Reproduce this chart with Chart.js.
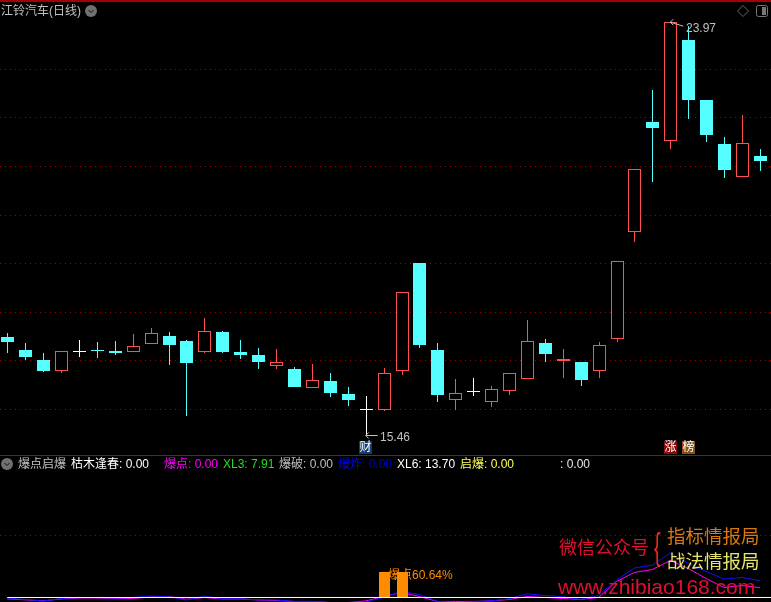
<!DOCTYPE html>
<html>
<head>
<meta charset="utf-8">
<script src="https://cdn.jsdelivr.net/npm/chart.js@4"></script>
<style>
  html, body { margin: 0; padding: 0; background: #000; overflow: hidden; }
  #wrap { position: relative; width: 771px; height: 602px; background: #000; overflow: hidden;
          font-family: "Liberation Sans", "Noto Sans CJK SC", sans-serif; font-size: 12px; }
  canvas { position: absolute; left: 0; }
  #wrap span, #wrap div.rule, #wrap svg { position: absolute; }
  #wrap span { white-space: pre; line-height: 14px; }
  .badge { width: 13px; height: 13px; line-height: 13px !important; text-align: center; color: #fff; }
  .wm { font-size: 18.5px; line-height: 20px !important; }
</style>
</head>
<body>
<div id="wrap">
  <canvas id="price" width="771" height="455" style="top:0"></canvas>
  <canvas id="indicator" width="771" height="147" style="top:455px"></canvas>

  <div class="rule" style="left:0;top:0;width:771px;height:2px;background:#a80000"></div>
  <div class="rule" style="left:0;top:455px;width:771px;height:1px;background:#c00000"></div>

  <span style="left:1px;top:4px;color:#c0c0c0">江铃汽车(日线)</span>
  <svg style="left:85px;top:5px" width="12" height="12"><circle cx="6" cy="6" r="6" fill="#707070"/><path d="M3.5 5 L6 7.5 L8.5 5" stroke="#111" fill="none"/></svg>
  <svg style="left:737px;top:5px" width="12" height="12"><path d="M6 0.5 L11.5 6 L6 11.5 L0.5 6 Z" stroke="#666" fill="none"/></svg>
  <svg style="left:756px;top:5px" width="12" height="12"><rect x="0.5" y="0.5" width="11" height="11" rx="2" stroke="#777" fill="none"/><rect x="6" y="2" width="4" height="8" fill="#777"/></svg>

  <span style="left:686px;top:21px;color:#c0c0c0">23.97</span>
  <span style="left:380px;top:430px;color:#c0c0c0">15.46</span>
  <span class="badge" style="left:359px;top:441px;background:#123e6e">财</span>
  <span class="badge" style="left:664px;top:441px;background:#8a0a0a">涨</span>
  <span class="badge" style="left:682px;top:441px;background:#8a5010">榜</span>

  <svg style="left:1px;top:458px" width="12" height="12"><circle cx="6" cy="6" r="6" fill="#707070"/><path d="M3.5 5 L6 7.5 L8.5 5" stroke="#111" fill="none"/></svg>
  <span style="left:18px;top:457px;color:#c0c0c0">爆点启爆</span>
  <span style="left:71px;top:457px;color:#fff">枯木逢春: 0.00</span>
  <span style="left:164px;top:457px;color:#ff00ff">爆点: 0.00</span>
  <span style="left:223px;top:457px;color:#22dd22">XL3: 7.91</span>
  <span style="left:279px;top:457px;color:#c0c0c0">爆破: 0.00</span>
  <span style="left:338px;top:457px;color:#0000ff">爆炸</span>
  <span style="left:362px;top:457px;color:#0000c8">: 0.00</span>
  <span style="left:397px;top:457px;color:#fff">XL6: 13.70</span>
  <span style="left:460px;top:457px;color:#ffff55">启爆: 0.00</span>
  <span style="left:560px;top:457px;color:#e8e8e8">: 0.00</span>

  <span style="left:388px;top:568px;color:#ff8c00">爆点60.64%</span>

  <span class="wm" style="left:559px;top:538px;font-size:18px;color:#e01030">微信公众号</span>
  <span style="left:654px;top:527px;font-size:36px;line-height:40px;color:#e0301f;transform:scaleX(0.55);transform-origin:left top">{</span>
  <span class="wm" style="left:667px;top:527px;color:#d8780f">指标情报局</span>
  <span class="wm" style="left:667px;top:552px;color:#e6e66a">战法情报局</span>
  <span style="left:558px;top:575px;font-size:21px;line-height:24px;color:#e01030">www.zhibiao168.com</span>
</div>

<script>
// daily candles
const opens  = [17.49,17.22,17.02,16.79,17.20,17.22,17.20,17.18,17.35,17.51,17.41,17.18,17.59,17.18,17.12,16.89,16.83,16.44,16.58,16.32,16.01,15.99,16.79,19.01,17.22,16.19,16.38,16.15,16.38,16.62,17.37,16.99,16.97,16.79,17.45,19.65,21.92,21.53,23.60,22.37,21.46,20.78,21.21];
const closes = [17.39,17.08,16.79,17.20,17.20,17.20,17.16,17.30,17.57,17.33,16.95,17.61,17.18,17.12,16.97,16.97,16.46,16.60,16.34,16.19,16.01,16.75,18.42,17.33,16.30,16.34,16.38,16.42,16.75,17.41,17.14,17.04,16.60,17.33,19.05,20.95,21.79,23.97,22.37,21.65,20.93,21.48,21.11];
const highs  = [17.57,17.37,17.16,17.20,17.43,17.39,17.41,17.55,17.67,17.59,17.43,17.88,17.61,17.43,17.26,17.24,16.87,16.93,16.75,16.46,16.28,16.85,18.42,19.01,17.37,16.62,16.64,16.48,16.75,17.84,17.45,17.24,16.97,17.39,19.05,20.95,22.58,23.97,23.89,22.37,21.61,22.06,21.36];
const lows   = [17.16,17.02,16.77,16.75,17.08,17.06,17.12,17.18,17.35,16.91,15.86,17.16,17.16,17.04,16.83,16.83,16.46,16.44,16.25,16.07,15.46,15.97,16.71,17.26,16.15,15.99,16.28,16.05,16.30,16.62,16.97,16.64,16.48,16.64,17.39,19.44,20.68,21.36,21.98,21.50,20.76,20.78,20.91];
const priceTicks = [16,17,18,19,20,21,22,23];

// lower pane
const xl6 = [-0.8,-1.5,-2.9,-0.8,0,0,-0.4,0,1.2,0.6,-2.0,1.2,-1.1,-1.1,-1.9,-2.0,-3.2,-3.2,-4.1,-4.1,-3.6,0,4.9,2.4,-3.2,-4.1,-3.6,-2.8,-1.1,3.0,1.6,0.6,-1.5,1.6,14.2,23.9,26.3,36.1,27.6,21.1,15.0,16.2,13.70];
const xl3 = [-1.1,-1.9,-2.7,-1.2,-0.4,-0.4,-0.8,-0.8,0.4,0.8,-1.4,0,-1.2,-1.2,-2.0,-2.4,-3.2,-3.2,-4.1,-4.1,-2.8,0.8,4.1,0.8,-3.2,-3.2,-3.2,-2.8,-1.6,0.8,0,-0.8,-1.6,0,13.0,20.3,22.7,30.0,23.5,15.4,8.1,9.7,7.91];
const burstDays = [21,22];
const burstBars = [20.3,20.3];
const igniteBars = [0.8,0.8];
const indicatorTicks = [50];

const RED = '#ff5050', CYAN = '#55ffff', WHITE = '#ffffff';
const GRID = { color: '#a00000', lineWidth: 1, drawTicks: false };
const BORDER = { display: false, dash: [1,4] };

// index 0 sits at 7.3px and candles are 17.92px apart
const xMin = -0.407, xMax = 42.62;

function candleColor(i) {
    if (closes[i] > opens[i]) return RED;
    if (closes[i] < opens[i]) return CYAN;
    return WHITE;
}

// keep bars on whole pixels, the original has no antialiasing
const snapBars = {
    id: 'snapBars',
    beforeDatasetsDraw(chart) {
        chart.data.datasets.forEach((ds, n) => {
            const meta = chart.getDatasetMeta(n);
            if (meta.type !== 'bar') return;
            meta.data.forEach(el => {
                el.x = Math.round(el.x) + 0.5;
                const top = Math.round(Math.min(el.y, el.base));
                const bottom = Math.max(Math.round(Math.max(el.y, el.base)), top + 1);
                el.y = top;
                el.base = bottom;
                el.height = bottom - top;
            });
        });
    }
};

// little arrows pointing at the highest and lowest price
const extremes = {
    id: 'extremes',
    afterDatasetsDraw(chart) {
        const { ctx, scales } = chart;
        const arrow = (i, price, dx, dy) => {
            const x = scales.x.getPixelForValue(i), y = scales.y.getPixelForValue(price);
            ctx.save();
            ctx.strokeStyle = '#c0c0c0';
            ctx.lineWidth = 1;
            ctx.beginPath();
            ctx.moveTo(x, y);
            ctx.lineTo(x + dx, y + dy);
            ctx.moveTo(x, y);
            ctx.lineTo(x + 3, y - 3);
            ctx.moveTo(x, y);
            ctx.lineTo(x + 3, y + 3);
            ctx.stroke();
            ctx.restore();
        };
        arrow(37, 23.97, 13, 4);
        arrow(20, 15.46, 12, 0);
    }
};

const days = opens.map((_, i) => i);

new Chart(document.getElementById('price'), {
    type: 'bar',
    data: {
        datasets: [{
            // wicks
            data: days.map(i => ({ x: i, y: [lows[i], highs[i]] })),
            barThickness: 1,
            backgroundColor: days.map(candleColor),
            borderWidth: 0,
            inflateAmount: 0,
            grouped: false,
            order: 2
        }, {
            // bodies, rising ones are hollow
            data: days.map(i => ({ x: i, y: [Math.min(opens[i], closes[i]), Math.max(opens[i], closes[i])] })),
            barThickness: 13,
            backgroundColor: days.map(i => closes[i] > opens[i] ? '#000000' : candleColor(i)),
            borderColor: days.map(candleColor),
            borderWidth: days.map(i => closes[i] > opens[i] ? 1 : 0),
            borderSkipped: false,
            inflateAmount: 0,
            grouped: false,
            order: 1
        }]
    },
    options: {
        responsive: false,
        animation: false,
        devicePixelRatio: 1,
        layout: { padding: 0 },
        plugins: { legend: { display: false }, tooltip: { enabled: false } },
        scales: {
            x: { type: 'linear', offset: false, min: xMin, max: xMax, display: false },
            y: {
                min: 15.059, max: 24.427,
                afterBuildTicks: axis => { axis.ticks = priceTicks.map(value => ({ value })); },
                ticks: { display: false },
                grid: GRID,
                border: BORDER
            }
        }
    },
    plugins: [snapBars, extremes]
});

new Chart(document.getElementById('indicator'), {
    type: 'bar',
    data: {
        datasets: [{
            type: 'line',
            data: [{ x: 0, y: 0 }, { x: xMax, y: 0 }],
            borderColor: WHITE,
            borderWidth: 1,
            pointRadius: 0,
            order: 0
        }, {
            data: burstDays.map((d, i) => ({ x: d, y: burstBars[i] })),
            barThickness: 11,
            backgroundColor: '#ff8c00',
            inflateAmount: 0,
            grouped: false,
            order: 1
        }, {
            type: 'line',
            data: days.map(i => ({ x: i, y: xl6[i] })),
            borderColor: '#1010ff',
            borderWidth: 1,
            pointRadius: 0,
            order: 2
        }, {
            type: 'line',
            data: days.map(i => ({ x: i, y: xl3[i] })),
            borderColor: '#ff00ff',
            borderWidth: 1,
            pointRadius: 0,
            order: 3
        }, {
            data: burstDays.map((d, i) => ({ x: d, y: igniteBars[i] })),
            barThickness: 20,
            backgroundColor: '#ffff80',
            inflateAmount: 0,
            grouped: false,
            order: 4
        }]
    },
    options: {
        responsive: false,
        animation: false,
        devicePixelRatio: 1,
        layout: { padding: 0 },
        plugins: { legend: { display: false }, tooltip: { enabled: false } },
        scales: {
            x: { type: 'linear', offset: false, min: xMin, max: xMax, display: false },
            y: {
                min: -3.65, max: 115.48,
                afterBuildTicks: axis => { axis.ticks = indicatorTicks.map(value => ({ value })); },
                ticks: { display: false },
                grid: GRID,
                border: BORDER
            }
        }
    },
    plugins: [snapBars]
});
</script>
</body>
</html>
